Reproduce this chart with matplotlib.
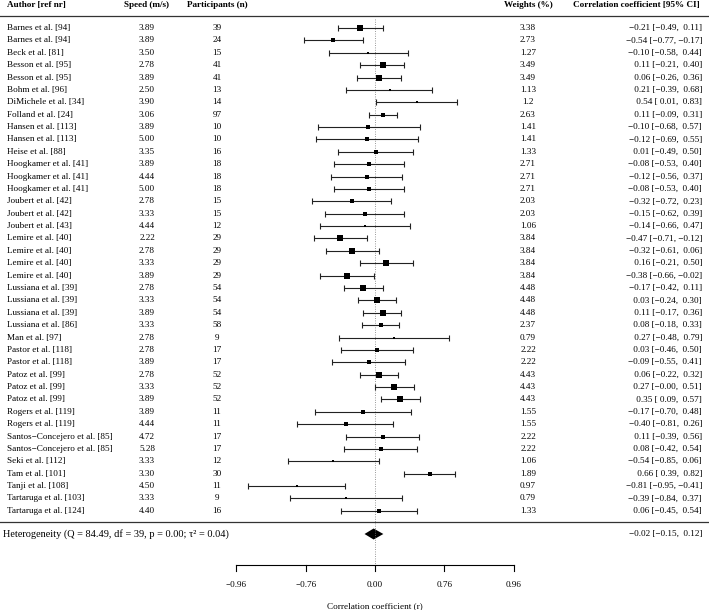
import numpy as np
import matplotlib
matplotlib.use("Agg")
import matplotlib.pyplot as plt

# Study table
authors = [
    "Barnes et al. [94]", "Barnes et al. [94]", "Beck et al. [81]", "Besson et al. [95]",
    "Besson et al. [95]", "Bohm et al. [96]", "DiMichele et al. [34]", "Folland et al. [24]",
    "Hansen et al. [113]", "Hansen et al. [113]", "Heise et al. [88]", "Hoogkamer et al. [41]",
    "Hoogkamer et al. [41]", "Hoogkamer et al. [41]", "Joubert et al. [42]", "Joubert et al. [42]",
    "Joubert et al. [43]", "Lemire et al. [40]", "Lemire et al. [40]", "Lemire et al. [40]",
    "Lemire et al. [40]", "Lussiana et al. [39]", "Lussiana et al. [39]", "Lussiana et al. [39]",
    "Lussiana et al. [86]", "Man et al. [97]", "Pastor et al. [118]", "Pastor et al. [118]",
    "Patoz et al. [99]", "Patoz et al. [99]", "Patoz et al. [99]", "Rogers et al. [119]",
    "Rogers et al. [119]", "Santos\u2212Concejero et al. [85]", "Santos\u2212Concejero et al. [85]",
    "Seki et al. [112]", "Tam et al. [101]", "Tanji et al. [108]", "Tartaruga et al. [103]",
    "Tartaruga et al. [124]",
]
speeds = ["3.89", "3.89", "3.50", "2.78", "3.89", "2.50", "3.90", "3.06", "3.89", "5.00",
          "3.35", "3.89", "4.44", "5.00", "2.78", "3.33", "4.44", "2.22", "2.78", "3.33",
          "3.89", "2.78", "3.33", "3.89", "3.33", "2.78", "2.78", "3.89", "2.78", "3.33",
          "3.89", "3.89", "4.44", "4.72", "5.28", "3.33", "3.30", "4.50", "3.33", "4.40"]
participants = [39, 24, 15, 41, 41, 13, 14, 97, 10, 10, 16, 18, 18, 18, 15, 15, 12, 29, 29, 29,
                29, 54, 54, 54, 58, 9, 17, 17, 52, 52, 52, 11, 11, 17, 17, 12, 30, 11, 9, 16]
weights = ["3.38", "2.73", "1.27", "3.49", "3.49", "1.13", "1.2", "2.63", "1.41", "1.41",
           "1.33", "2.71", "2.71", "2.71", "2.03", "2.03", "1.06", "3.84", "3.84", "3.84",
           "3.84", "4.48", "4.48", "4.48", "2.37", "0.79", "2.22", "2.22", "4.43", "4.43",
           "4.43", "1.55", "1.55", "2.22", "2.22", "1.06", "1.89", "0.97", "0.79", "1.33"]
r_est = [-0.21, -0.54, -0.10, 0.11, 0.06, 0.21, 0.54, 0.11, -0.10, -0.12, 0.01, -0.08, -0.12,
         -0.08, -0.32, -0.15, -0.14, -0.47, -0.32, 0.16, -0.38, -0.17, 0.03, 0.11, 0.08, 0.27,
         0.03, -0.09, 0.06, 0.27, 0.35, -0.17, -0.40, 0.11, 0.08, -0.54, 0.66, -0.81, -0.39, 0.06]
r_lo = [-0.49, -0.77, -0.58, -0.21, -0.26, -0.39, 0.01, -0.09, -0.68, -0.69, -0.49, -0.53, -0.56,
        -0.53, -0.72, -0.62, -0.66, -0.71, -0.61, -0.21, -0.66, -0.42, -0.24, -0.17, -0.18, -0.48,
        -0.46, -0.55, -0.22, -0.00, 0.09, -0.70, -0.81, -0.39, -0.42, -0.85, 0.39, -0.95, -0.84, -0.45]
r_hi = [0.11, -0.17, 0.44, 0.40, 0.36, 0.68, 0.83, 0.31, 0.57, 0.55, 0.50, 0.40, 0.37, 0.40,
        0.23, 0.39, 0.47, -0.12, 0.06, 0.50, -0.02, 0.11, 0.30, 0.36, 0.33, 0.79, 0.50, 0.41,
        0.32, 0.51, 0.57, 0.48, 0.26, 0.56, 0.54, 0.06, 0.82, -0.41, 0.37, 0.54]

# pooled random-effects estimate
pooled = (-0.02, -0.15, 0.12)
het_text = "Heterogeneity (Q = 84.49, df = 39, p = 0.00; \u03c4\u00b2 = 0.04)"

# axis ticks on the Fisher-z scale, labelled back as r
tick_z = [-2, -1, 0, 1, 2]

FONT = "Liberation Serif"
FS = 6.6
plt.rcParams["font.family"] = [FONT, "DejaVu Serif"]

W, H = 709, 610
X0, XU = 375.0, 69.3      # pixel of z=0, pixels per z unit
Y0, YU = 28.0, 12.38      # pixel of first row, pixels per row


def px2x(px):
    return (px - X0) / XU


def py2y(py):
    return (py - Y0) / YU


def fmt(v):
    s = f"{v:.2f}"
    return s.replace("-", "\u2212") if s.startswith("-") else " " + s


fig = plt.figure(figsize=(W / 100, H / 100), dpi=100)
ax = fig.add_axes([0, 0, 1, 1])
ax.set_xlim(px2x(0), px2x(W))
ax.set_ylim(py2y(H), py2y(0))
ax.axis("off")

n = len(authors)
rows = np.arange(n)
z = np.arctanh(r_est)
zlo = np.arctanh(r_lo)
zhi = np.arctanh(r_hi)

# square side grows with the study weight
w = np.array([float(v) for v in weights])
side_px = 2.4 + (w - w.min()) / (w.max() - w.min()) * 4.3

# headers
hy = py2y(5)
ax.text(px2x(7), hy, "Author [ref nr]", fontsize=FS, fontweight="bold", va="center", ha="left")
ax.text(px2x(147), hy, "Speed (m/s)", fontsize=FS, fontweight="bold", va="center", ha="center")
ax.text(px2x(217), hy, "Participants (n)", fontsize=FS, fontweight="bold", va="center", ha="center")
ax.text(px2x(528), hy, "Weights (%)", fontsize=FS, fontweight="bold", va="center", ha="center")
ax.text(px2x(700), hy, "Correlation coefficient [95% CI]", fontsize=FS, fontweight="bold",
        va="center", ha="right")

ax.plot([px2x(0), px2x(W)], [py2y(16)] * 2, color="#333333", lw=0.9)
ax.plot([px2x(0), px2x(W)], [py2y(522)] * 2, color="#333333", lw=0.9)

# reference line at r = 0
ax.plot([0, 0], [py2y(19), py2y(565)], color="#777777", lw=0.6, ls=(0, (1, 1.8)))

for i in rows:
    ax.text(px2x(7), i, authors[i], fontsize=FS, va="center", ha="left")
    ax.text(px2x(147), i, speeds[i], fontsize=FS, va="center", ha="center")
    ax.text(px2x(217), i, str(participants[i]), fontsize=FS, va="center", ha="center")
    ax.text(px2x(528), i, weights[i], fontsize=FS, va="center", ha="center")
    ax.text(px2x(702), i, f"{fmt(r_est[i])} [{fmt(r_lo[i])}, {fmt(r_hi[i])}]",
            fontsize=FS, va="center", ha="right")
    ax.errorbar(z[i], i, xerr=[[z[i] - zlo[i]], [zhi[i] - z[i]]], fmt="none",
                ecolor="#222222", elinewidth=0.8, capsize=2.2, capthick=0.8)
    ax.plot(z[i], i, marker="s", color="black", ms=side_px[i] * 0.72, mew=0)

# summary diamond
sy = py2y(534)
pz = np.arctanh(pooled)
dh = 5.5 / YU
ax.fill([pz[1], pz[0], pz[2], pz[0]], [sy, sy - dh, sy, sy + dh], color="black", lw=0)
ax.text(px2x(3), sy, het_text, fontsize=7.4, va="center", ha="left")
ax.text(px2x(702), sy, f"{fmt(pooled[0])} [{fmt(pooled[1])}, {fmt(pooled[2])}]",
        fontsize=FS, va="center", ha="right")

# bottom axis
ay = py2y(565)
ax.plot([tick_z[0], tick_z[-1]], [ay, ay], color="black", lw=0.8)
for t in tick_z:
    ax.plot([t, t], [ay, py2y(571)], color="black", lw=0.8)
    ax.text(t, py2y(585), fmt(np.tanh(t)).strip(), fontsize=FS, va="center", ha="center")
ax.text(0, py2y(606), "Correlation coefficient (r)", fontsize=FS, va="center", ha="center")

fig.savefig("out.png", dpi=100)
